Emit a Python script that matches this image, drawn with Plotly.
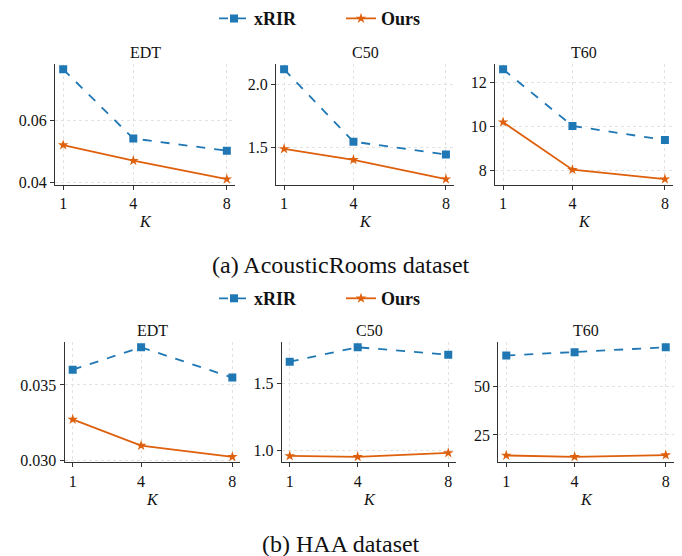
import plotly.graph_objects as go

K = [1, 4, 8]
metrics = ["EDT", "C50", "T60"]

# (a) AcousticRooms dataset
ar_xrir_edt = [0.0762, 0.0541, 0.0502]
ar_ours_edt = [0.0520, 0.0470, 0.0411]
ar_xrir_c50 = [2.123, 1.545, 1.442]
ar_ours_c50 = [1.487, 1.400, 1.245]
ar_xrir_t60 = [12.60, 10.03, 9.39]
ar_ours_t60 = [10.20, 8.04, 7.61]

# (b) HAA dataset
haa_xrir_edt = [0.03601, 0.03749, 0.03549]
haa_ours_edt = [0.03273, 0.03100, 0.03026]
haa_xrir_c50 = [1.662, 1.769, 1.713]
haa_ours_c50 = [0.961, 0.954, 0.983]
haa_xrir_t60 = [66.3, 68.0, 70.6]
haa_ours_t60 = [14.3, 13.6, 14.5]

# tick values
ar_ticks = [[0.04, 0.06], [1.5, 2.0], [8, 10, 12]]
ar_fmt = [".2f", ".1f", "d"]
haa_ticks = [[0.030, 0.035], [1.0, 1.5], [25, 50]]
haa_fmt = [".3f", ".1f", "d"]

W, H = 682, 556
BLUE = "#1f77b4"
ORANGE = "#de600c"
FONT = "'Liberation Serif', 'Times New Roman', Times, serif"
AX = "#333333"

def px(x):
    return x / W

def py(y):
    return 1 - y / H

top_x = [(55, 235), (276, 454), (495, 673)]
bot_x = [(64.7, 240.3), (281.8, 456.2), (498.3, 673.7)]
top_y = (62, 185)
bot_y = (345, 467.7)

fig = go.Figure()
layout = {}
annotations = []

rows = [
    (ar_xrir_edt, ar_ours_edt, ar_xrir_c50, ar_ours_c50, ar_xrir_t60, ar_ours_t60),
    (haa_xrir_edt, haa_ours_edt, haa_xrir_c50, haa_ours_c50, haa_xrir_t60, haa_ours_t60),
]

idx = 0
for r, data in enumerate(rows):
    xs = top_x if r == 0 else bot_x
    ys = top_y if r == 0 else bot_y
    ticks = ar_ticks if r == 0 else haa_ticks
    fmts = ar_fmt if r == 0 else haa_fmt
    legend = "legend" if r == 0 else "legend2"
    for c in range(3):
        idx += 1
        xr = data[2 * c]
        ou = data[2 * c + 1]
        xa = "x" if idx == 1 else f"x{idx}"
        ya = "y" if idx == 1 else f"y{idx}"
        fig.add_trace(go.Scatter(
            x=K, y=xr, name="<b>xRIR</b>", mode="lines+markers",
            line=dict(color=BLUE, width=1.8, dash="dash"),
            marker=dict(symbol="square", size=8, color=BLUE),
            xaxis=xa, yaxis=ya, legend=legend, showlegend=(c == 0),
        ))
        fig.add_trace(go.Scatter(
            x=K, y=ou, name="<b>Ours</b>", mode="lines+markers",
            line=dict(color=ORANGE, width=1.8),
            marker=dict(symbol="star", size=8, color=ORANGE),
            xaxis=xa, yaxis=ya, legend=legend, showlegend=(c == 0),
        ))
        lo = min(min(xr), min(ou))
        hi = max(max(xr), max(ou))
        pad = 0.05 * (hi - lo)
        common = dict(
            showline=True, linecolor=AX, linewidth=1.3,
            ticks="outside", ticklen=4, tickcolor=AX, tickwidth=1,
            showgrid=True, gridcolor="#e2e2e2", gridwidth=0.6, griddash="dot",
            zeroline=False, mirror=False,
            tickfont=dict(family=FONT, size=16, color="#111"),
        )
        layout["xaxis" if idx == 1 else f"xaxis{idx}"] = dict(
            domain=[px(xs[c][0]), px(xs[c][1])],
            range=[1 - 0.05 * 7, 8 + 0.05 * 7],
            tickvals=K, anchor=ya, **common,
        )
        layout["yaxis" if idx == 1 else f"yaxis{idx}"] = dict(
            domain=[py(ys[1]), py(ys[0])],
            range=[lo - pad, hi + pad],
            tickvals=ticks[c], tickformat=fmts[c], anchor=xa, **common,
        )
        cx = px((xs[c][0] + xs[c][1]) / 2)
        annotations.append(dict(
            text=metrics[c], x=cx, y=py(ys[0] - 12), xref="paper", yref="paper",
            showarrow=False, xanchor="center", yanchor="middle",
            font=dict(family=FONT, size=16, color="#111"),
        ))
        annotations.append(dict(
            text="<i>K</i>", x=cx, y=py(ys[1] + 38), xref="paper", yref="paper",
            showarrow=False, xanchor="center", yanchor="middle",
            font=dict(family=FONT, size=16, color="#111"),
        ))

annotations.append(dict(
    text="(a) AcousticRooms dataset", x=0.5, y=py(267), xref="paper", yref="paper",
    showarrow=False, xanchor="center", yanchor="middle",
    font=dict(family=FONT, size=24, color="#111"),
))
annotations.append(dict(
    text="(b) HAA dataset", x=0.5, y=py(551), xref="paper", yref="paper",
    showarrow=False, xanchor="center", yanchor="middle",
    font=dict(family=FONT, size=24, color="#111"),
))

leg_common = dict(
    orientation="h", xanchor="center", x=0.5, yanchor="middle",
    font=dict(family=FONT, size=18, color="#111"),
    bgcolor="rgba(0,0,0,0)", itemwidth=30, tracegroupgap=0,
    entrywidth=82, entrywidthmode="pixels",
)

fig.update_layout(
    width=W, height=H, margin=dict(l=0, r=0, t=0, b=0),
    paper_bgcolor="white", plot_bgcolor="white",
    annotations=annotations,
    legend=dict(y=py(16), **leg_common),
    legend2=dict(y=py(301), **leg_common),
    **layout,
)

fig.write_html("out.html", config={"displayModeBar": False},
               post_script="document.body.style.margin='0';document.body.style.overflow='hidden';")
